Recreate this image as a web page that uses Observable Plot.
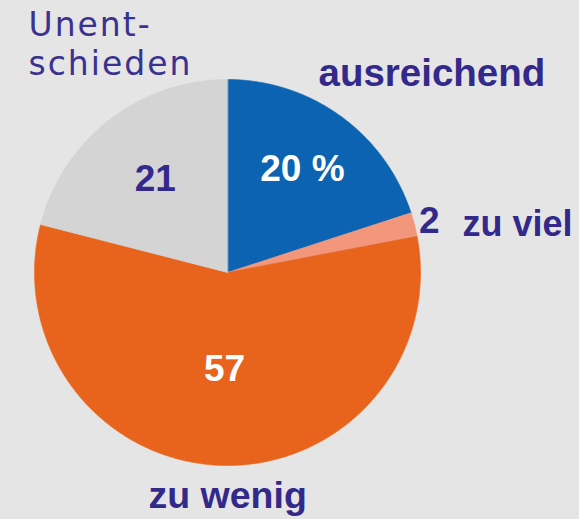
<!DOCTYPE html>
<html>
<head>
<meta charset="utf-8">
<script src="https://cdn.jsdelivr.net/npm/d3@7"></script>
<script src="https://cdn.jsdelivr.net/npm/@observablehq/plot@0.6"></script>
<style>
  html, body { margin: 0; padding: 0; background: #e5e5e5; }
  g[aria-description="wide"] text { letter-spacing: 2px; }
</style>
</head>
<body>
<div id="chart"></div>
<script>
// ---- data ----
const categories = ["ausreichend", "zu viel", "zu wenig", "Unentschieden"];
const values = [20, 2, 57, 21];
const valueLabels = ["20 %", "2", "57", "21"];
const sliceColors = ["#0b63b1", "#f2967c", "#e8641c", "#d4d4d4"];
const valueColors = ["#ffffff", "#33298b", "#ffffff", "#33298b"];

// ---- layout (not data) ----
const W = 579, H = 519, CX = 227, CY = 272, R = 193;
const labelRadius = [0.66, 1.08, 0.5, 0.61];
const ink = "#33298b";
const font = "Liberation Sans, Arial, sans-serif";

// pie geometry from data
const arcs = d3.pie().sort(null).value(d => d.value)(
  categories.map((c, i) => ({name: c, value: values[i], i}))
);
const polyPts = [];
for (const a of arcs) {
  const n = Math.max(2, Math.ceil((a.endAngle - a.startAngle) / (Math.PI / 360)));
  polyPts.push({name: a.data.name, x: 0, y: 0});
  for (let k = 0; k <= n; k++) {
    const t = a.startAngle + (a.endAngle - a.startAngle) * k / n;
    polyPts.push({name: a.data.name, x: Math.sin(t), y: Math.cos(t)});
  }
}
const valuePts = arcs.map((a, i) => {
  const m = (a.startAngle + a.endAngle) / 2;
  return {label: valueLabels[i], color: valueColors[i], x: labelRadius[i] * Math.sin(m), y: labelRadius[i] * Math.cos(m)};
});

const chart = Plot.plot({
  width: W,
  height: H,
  margin: 0,
  style: {background: "#e5e5e5", overflow: "visible"},
  x: {domain: [-CX / R, (W - CX) / R], axis: null},
  y: {domain: [-(H - CY) / R, CY / R], axis: null},
  color: {domain: categories, range: sliceColors},
  marks: [
    Plot.line(polyPts, {x: "x", y: "y", z: "name", fill: "name", stroke: "name", strokeWidth: 0.6, curve: "linear-closed"}),
    Plot.text(valuePts, {x: "x", y: "y", text: "label", fill: "color", fontSize: 37, fontWeight: "bold", fontFamily: font}),
    Plot.text(["ausreichend"], {frameAnchor: "top-left", textAnchor: "start", lineAnchor: "bottom", dx: 318, dy: 85, fill: ink, fontSize: 38.5, fontWeight: "bold", fontFamily: font}),
    Plot.text(["zu viel"], {frameAnchor: "top-left", textAnchor: "start", lineAnchor: "bottom", dx: 462, dy: 235, fill: ink, fontSize: 36, fontWeight: "bold", fontFamily: font}),
    Plot.text(["zu wenig"], {frameAnchor: "top-left", textAnchor: "start", lineAnchor: "bottom", dx: 148, dy: 507, fill: ink, fontSize: 37.5, fontWeight: "bold", fontFamily: font}),
    Plot.text(["Unent-\nschieden"], {frameAnchor: "top-left", textAnchor: "start", lineAnchor: "bottom", dx: 28, dy: 74, lineHeight: 39 / 33, fill: "#3a3290", fontSize: 33, fontWeight: "normal", fontFamily: "DejaVu Sans, sans-serif", ariaDescription: "wide"})
  ]
});
document.getElementById("chart").appendChild(chart);
</script>
</body>
</html>
